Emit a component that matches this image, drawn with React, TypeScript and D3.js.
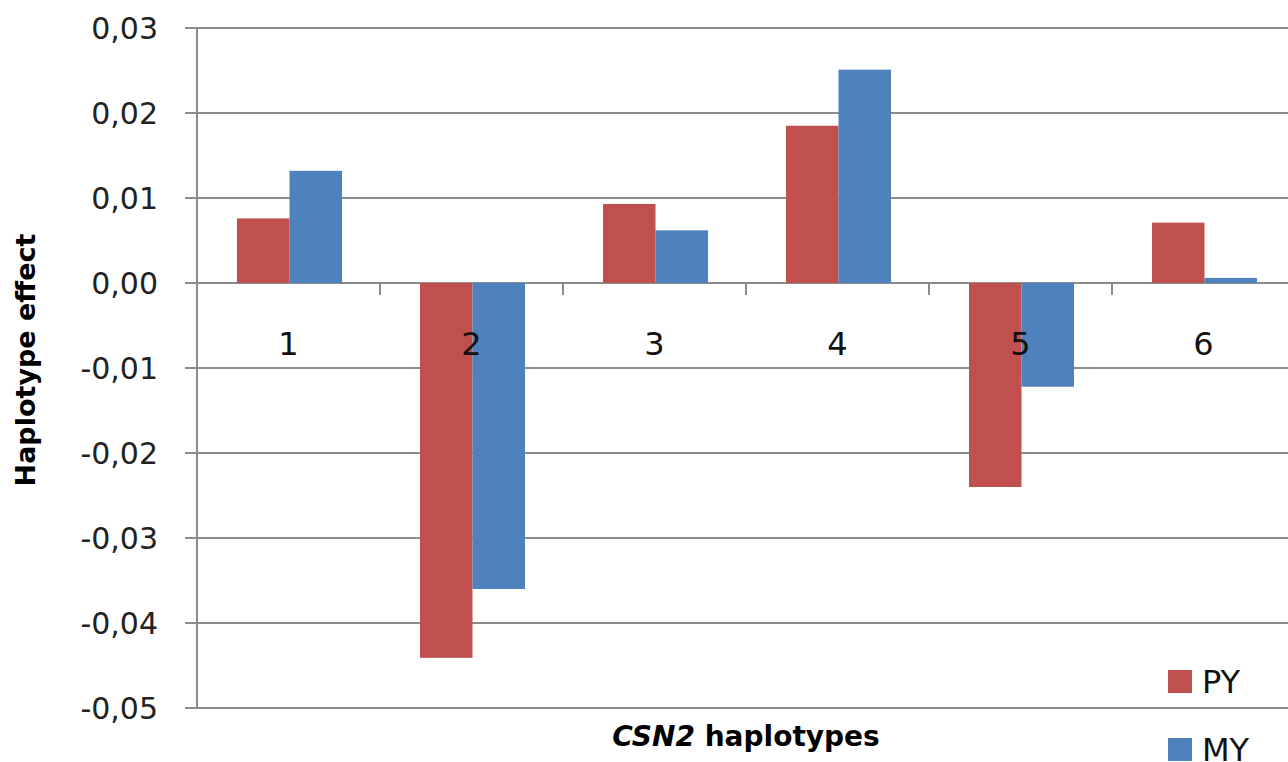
import * as d3 from "d3";

const haplotypes = ["1", "2", "3", "4", "5", "6"];
const seriesNames = ["PY", "MY"];
const pyValues = [0.0076, -0.0441, 0.0093, 0.0185, -0.024, 0.0071];
const myValues = [0.0132, -0.036, 0.0062, 0.0251, -0.0122, 0.0006];
const yTicks = [0.03, 0.02, 0.01, 0, -0.01, -0.02, -0.03, -0.04, -0.05];
const colors = ["#C0504D", "#4F81BD"];

const W = 1288;
const H = 762;
const plot = { left: 197, top: 28, bottom: 708, right: 1295 };
const gridColor = "#8c8c8c";
const font = "'DejaVu Sans', Verdana, sans-serif";

export default function App() {
  const x = d3
    .scaleBand<string>()
    .domain(haplotypes)
    .range([plot.left, plot.right])
    .padding(0);

  const inner = d3
    .scaleBand<string>()
    .domain(seriesNames)
    .range([40, 145])
    .padding(0);

  const y = d3
    .scaleLinear()
    .domain([-0.05, 0.03])
    .range([plot.bottom, plot.top]);

  const fmt = (v: number) => {
    const s = Math.abs(v).toFixed(2).replace(".", ",");
    return v < -1e-9 ? "-" + s : s;
  };

  const series = [pyValues, myValues];
  const y0 = y(0);

  return (
    <svg
      width={W}
      height={H}
      style={{ position: "absolute", left: 0, top: 0, background: "#fff" }}
    >
      {/* gridlines + y ticks */}
      {yTicks.map((t) => (
        <g key={t}>
          <line
            x1={185}
            x2={W}
            y1={y(t)}
            y2={y(t)}
            stroke={gridColor}
            strokeWidth={2}
          />
          <text
            x={158}
            y={y(t)}
            dy="0.36em"
            textAnchor="end"
            fontFamily={font}
            fontSize={30}
            fill="#222"
          >
            {fmt(t)}
          </text>
        </g>
      ))}

      {/* y axis line */}
      <line
        x1={plot.left}
        x2={plot.left}
        y1={plot.top}
        y2={plot.bottom}
        stroke={gridColor}
        strokeWidth={2}
      />

      {/* bars */}
      {series.map((vals, si) =>
        vals.map((v, i) => {
          const bx = (x(haplotypes[i]) ?? 0) + (inner(seriesNames[si]) ?? 0);
          const yv = y(v);
          return (
            <rect
              key={`${si}-${i}`}
              x={bx}
              y={Math.min(yv, y0)}
              width={inner.bandwidth()}
              height={Math.abs(yv - y0)}
              fill={colors[si]}
            />
          );
        })
      )}

      {/* x ticks on zero line */}
      {haplotypes.slice(1).map((h) => (
        <line
          key={h}
          x1={x(h)}
          x2={x(h)}
          y1={y0}
          y2={y0 + 12}
          stroke={gridColor}
          strokeWidth={2}
        />
      ))}

      {/* category labels */}
      {haplotypes.map((h) => (
        <text
          key={h}
          x={(x(h) ?? 0) + x.bandwidth() / 2}
          y={355}
          textAnchor="middle"
          fontFamily={font}
          fontSize={32}
          fill="#111"
        >
          {h}
        </text>
      ))}

      {/* y axis title */}
      <text
        transform={`translate(35, 360) rotate(-90)`}
        textAnchor="middle"
        fontFamily={font}
        fontSize={27}
        fontWeight="bold"
        fill="#000"
      >
        Haplotype effect
      </text>

      {/* x axis title */}
      <text
        x={(plot.left + plot.right) / 2}
        y={746}
        textAnchor="middle"
        fontFamily={font}
        fontSize={28}
        fontWeight="bold"
        fill="#000"
      >
        <tspan fontStyle="italic">CSN2</tspan> haplotypes
      </text>

      {/* legend */}
      {seriesNames.map((s, i) => (
        <g key={s} transform={`translate(1168, ${670 + i * 68})`}>
          <rect width={24} height={23} fill={colors[i]} />
          <text
            x={34}
            y={23}
            fontFamily={font}
            fontSize={32}
            fill="#111"
          >
            {s}
          </text>
        </g>
      ))}
    </svg>
  );
}
